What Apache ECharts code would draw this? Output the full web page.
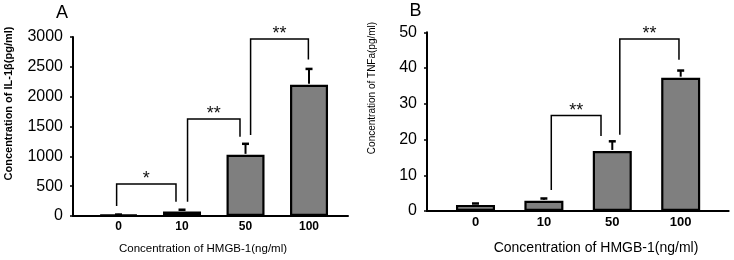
<!DOCTYPE html>
<html>
<head>
<meta charset="utf-8">
<script src="https://cdn.jsdelivr.net/npm/echarts@6/dist/echarts.min.js"></script>
<style>
  html, body { margin: 0; padding: 0; background: #fff; }
  #main { width: 734px; height: 260px; }
</style>
</head>
<body>
<div id="main"></div>
<script>
// HMGB-1 doses (x categories)
const doses = ["0", "10", "50", "100"];

// panel A: IL-1beta (pg/ml)
const il1bMean = [20, 75, 1025, 2200];
const il1bErr = [4, 30, 185, 265];
const il1bTicks = [0, 3000, 500];
// significance brackets: [xLeft, xRight, top, leftLegEnd, rightLegEnd]
const il1bSig = [
  [-0.03, 0.905, 536, 168, 240],
  [1.087, 1.913, 1626, 240, 1329],
  [2.08, 2.99, 2966, 1358, 2623],
];
const il1bSigText = ["*", "**", "**"];

// panel B: TNFa (pg/ml)
const tnfMean = [1.7, 2.85, 16.8, 37.3];
const tnfErr = [0.4, 0.65, 2.7, 2.0];
const tnfTicks = [0, 50, 10];
const tnfSig = [
  [1.108, 1.835, 26.7, 5.9, 21.0],
  [2.11, 2.975, 48.1, 21.3, 42.3],
];
const tnfSigText = ["**", "**"];

const FONT = "'Liberation Sans', Arial, sans-serif";
const chart = echarts.init(document.getElementById("main"));

function xAxisFor(gridIndex, min, max, labelSize) {
  return {
    type: "value",
    gridIndex: gridIndex,
    min: min,
    max: max,
    splitLine: { show: false },
    axisLine: { show: true, onZero: false, lineStyle: { color: "#000", width: 2 } },
    axisTick: { show: false },
    axisLabel: {
      customValues: [0, 1, 2, 3],
      formatter: (v) => doses[Math.round(v)],
      color: "#000",
      fontFamily: FONT,
      fontWeight: "bold",
      fontSize: labelSize,
      margin: 5,
    },
  };
}

function yAxisFor(gridIndex, ticks, labelSize) {
  return {
    type: "value",
    gridIndex: gridIndex,
    min: ticks[0],
    max: ticks[1],
    interval: ticks[2],
    splitLine: { show: false },
    axisLine: { show: true, onZero: false, lineStyle: { color: "#000", width: 2 } },
    axisTick: { show: true, length: 3, lineStyle: { color: "#000", width: 1.5 } },
    axisLabel: {
      formatter: (v) => String(v),
      color: "#000",
      fontFamily: FONT,
      fontSize: labelSize,
      margin: 10,
    },
  };
}

function barSeries(idx, mean, width) {
  return {
    type: "bar",
    xAxisIndex: idx,
    yAxisIndex: idx,
    barWidth: width,
    data: mean.map((v, i) => [i, v]),
    itemStyle: { color: "#7f7f7f", borderColor: "#000", borderWidth: 2.2 },
    silent: true,
  };
}

function errSeries(idx, mean, err) {
  return {
    type: "custom",
    xAxisIndex: idx,
    yAxisIndex: idx,
    data: mean.map((v, i) => [i, v, v + err[i]]),
    renderItem: function (params, api) {
      const lo = api.coord([api.value(0), api.value(1)]);
      const hi = api.coord([api.value(0), api.value(2)]);
      return {
        type: "group",
        children: [
          { type: "line", shape: { x1: lo[0], y1: lo[1] - 1, x2: hi[0], y2: hi[1] }, style: { stroke: "#000", lineWidth: 2 } },
          { type: "line", shape: { x1: hi[0] - 3.5, y1: hi[1], x2: hi[0] + 3.5, y2: hi[1] }, style: { stroke: "#000", lineWidth: 2.5 } },
        ],
      };
    },
    z: 3,
    silent: true,
  };
}

function sigSeries(idx, sig, texts, fontSize) {
  return {
    type: "custom",
    xAxisIndex: idx,
    yAxisIndex: idx,
    data: sig,
    renderItem: function (params, api) {
      const x0 = api.value(0), x1 = api.value(1), top = api.value(2);
      const a = api.coord([x0, api.value(3)]);
      const b = api.coord([x0, top]);
      const c = api.coord([x1, top]);
      const d = api.coord([x1, api.value(4)]);
      return {
        type: "group",
        children: [
          {
            type: "polyline",
            shape: { points: [a, b, c, d] },
            style: { stroke: "#000", lineWidth: 1.5, fill: null },
          },
          {
            type: "text",
            x: (b[0] + c[0]) / 2,
            y: b[1] + 4,
            style: {
              text: texts[params.dataIndex],
              fontFamily: FONT,
              fontSize: fontSize,
              fill: "#111",
              align: "center",
              verticalAlign: "bottom",
            },
          },
        ],
      };
    },
    silent: true,
  };
}

// grid geometry (px) and x ranges in category units
const gA = { left: 73, top: 37, width: 275, height: 179 };
const gB = { left: 427, top: 32.3, width: 301.7, height: 178.7 };

chart.setOption({
  animation: false,
  grid: [gA, gB],
  xAxis: [xAxisFor(0, -0.717, 3.614, 12), xAxisFor(1, -0.709, 3.702, 13)],
  yAxis: [yAxisFor(0, il1bTicks, 16), yAxisFor(1, tnfTicks, 16)],
  graphic: [
    { type: "text", x: 62, y: 13.5, style: { text: "A", fontFamily: FONT, fontSize: 18, fill: "#000", align: "center", verticalAlign: "middle" } },
    { type: "text", x: 415.5, y: 11, style: { text: "B", fontFamily: FONT, fontSize: 18, fill: "#000", align: "center", verticalAlign: "middle" } },
    { type: "text", x: 9, y: 103.5, rotation: Math.PI / 2, style: { text: "Concentration of IL-1β(pg/ml)", fontFamily: FONT, fontWeight: "bold", fontSize: 11, fill: "#000", align: "center", verticalAlign: "middle" } },
    { type: "text", x: 372, y: 88, rotation: Math.PI / 2, style: { text: "Concentration of TNFa(pg/ml)", fontFamily: FONT, fontSize: 10, fill: "#000", align: "center", verticalAlign: "middle" } },
    { type: "text", x: 203, y: 248.5, style: { text: "Concentration of HMGB-1(ng/ml)", fontFamily: FONT, fontSize: 11.5, fill: "#000", align: "center", verticalAlign: "middle" } },
    { type: "text", x: 596, y: 248, style: { text: "Concentration of HMGB-1(ng/ml)", fontFamily: FONT, fontSize: 14, fill: "#000", align: "center", verticalAlign: "middle" } },
  ],
  series: [
    barSeries(0, il1bMean, 38),
    errSeries(0, il1bMean, il1bErr),
    sigSeries(0, il1bSig, il1bSigText, 18),
    barSeries(1, tnfMean, 39),
    errSeries(1, tnfMean, tnfErr),
    sigSeries(1, tnfSig, tnfSigText, 18),
  ],
});
</script>
</body>
</html>
